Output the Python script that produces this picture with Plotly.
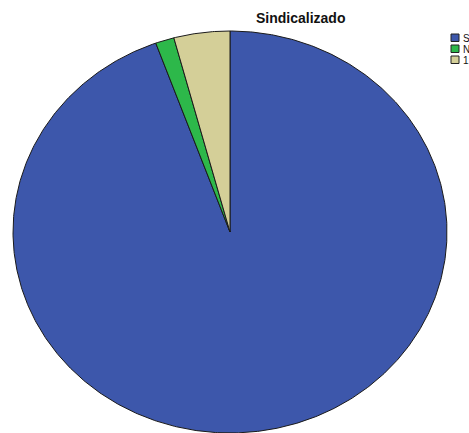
import numpy as np
import plotly.graph_objects as go

# Data
categories = ["Si", "No", "1:"]
counts = [68, 1, 3]
colors = ["#3D57AB", "#2DB84A", "#D4CF98"]
title_text = "Sindicalizado"

W, H = 469, 433
# ellipse geometry (axis units = pixels)
cx, cy, rx, ry = 230, 232, 217, 201

fig = go.Figure()
total = float(sum(counts))
start = 0.0
for name, v, c in zip(categories, counts, colors):
    frac = v / total
    n = max(int(frac * 720), 3)
    t = np.linspace(start, start + frac, n) * 2 * np.pi
    xs = np.concatenate([[cx], cx + rx * np.sin(t), [cx]])
    ys = np.concatenate([[cy], cy - ry * np.cos(t), [cy]])
    fig.add_trace(go.Scatter(
        x=xs, y=ys, fill="toself", fillcolor=c, mode="lines",
        line=dict(color="#1a1a1a", width=1), name=name,
        showlegend=False, hoverinfo="name",
    ))
    start += frac

# legend swatches and labels
shapes = []
annotations = []
for i, (name, c) in enumerate(zip(categories, colors)):
    y0 = 34 + i * 11
    shapes.append(dict(type="rect", xref="x", yref="y", x0=451, x1=459,
                       y0=y0, y1=y0 + 7.5, fillcolor=c,
                       line=dict(color="#222222", width=1)))
    annotations.append(dict(xref="x", yref="y", x=461, y=y0 + 4, text=name,
                            showarrow=False, xanchor="left", yanchor="middle",
                            font=dict(family="Liberation Sans, Arial", size=10, color="#111")))

annotations.append(dict(xref="x", yref="y", x=300, y=18, text="<b>%s</b>" % title_text,
                        showarrow=False, xanchor="center", yanchor="middle",
                        font=dict(family="Liberation Sans, Arial", size=14, color="#111")))

fig.update_layout(
    width=W, height=H, margin=dict(l=0, r=0, t=0, b=0),
    paper_bgcolor="white", plot_bgcolor="white",
    xaxis=dict(range=[0, W], visible=False, fixedrange=True),
    yaxis=dict(range=[H, 0], visible=False, fixedrange=True),
    shapes=shapes, annotations=annotations, showlegend=False,
)

fig.write_html("out.html")
